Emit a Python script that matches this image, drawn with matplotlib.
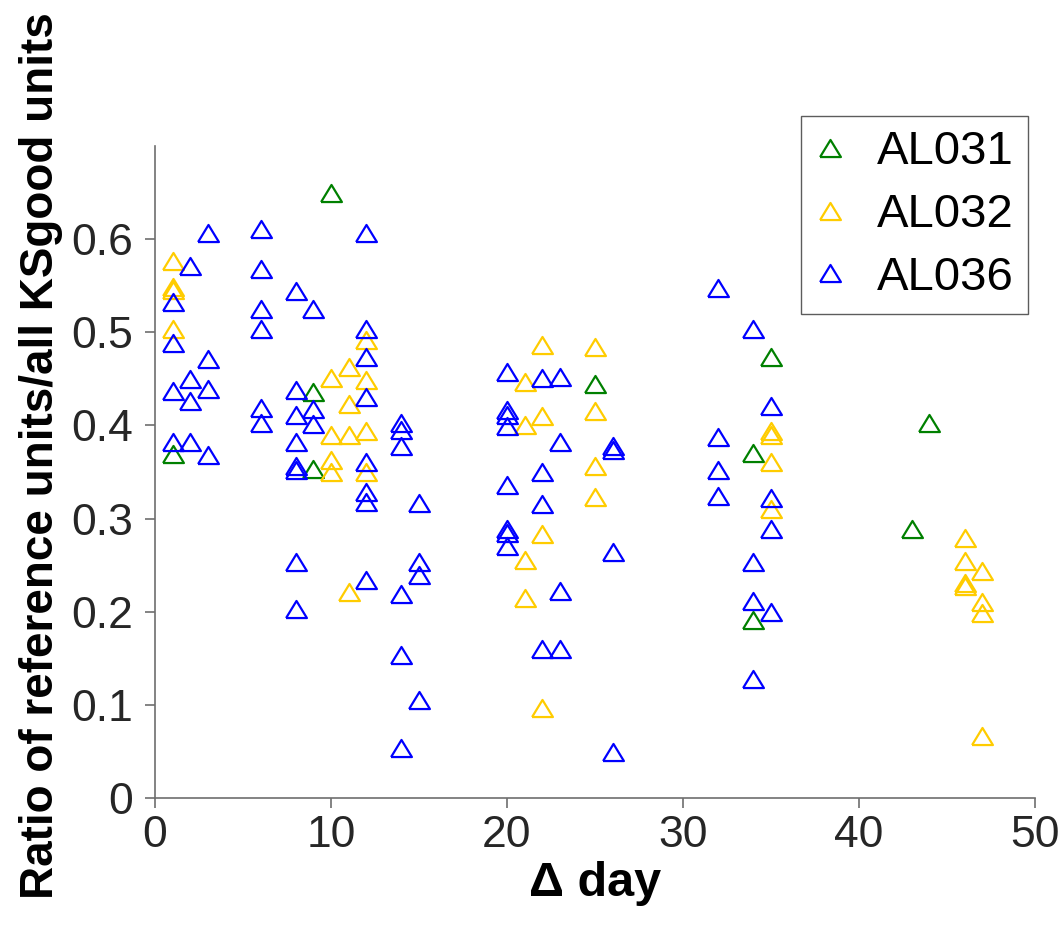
import matplotlib
matplotlib.use("Agg")
import matplotlib.pyplot as plt

# Ratio of reference units to all KSgood units, by days between sessions
al031_day = [1, 9, 9, 10, 25, 34, 34, 35, 43, 44]
al031_ratio = [0.369, 0.436, 0.353, 0.650, 0.444, 0.370, 0.191, 0.473, 0.289, 0.403]

al032_day = [1, 1, 1, 1,
             10, 10, 10, 10,
             11, 11, 11, 11,
             12, 12, 12, 12,
             21, 21, 21, 21,
             22, 22, 22, 22,
             25, 25, 25, 25,
             35, 35, 35, 35,
             46, 46, 46, 46,
             47, 47, 47, 47]
al032_ratio = [0.576, 0.549, 0.545, 0.503,
               0.451, 0.390, 0.363, 0.350,
               0.463, 0.423, 0.390, 0.221,
               0.492, 0.449, 0.394, 0.350,
               0.447, 0.400, 0.256, 0.215,
               0.486, 0.410, 0.283, 0.097,
               0.484, 0.416, 0.356, 0.323,
               0.394, 0.390, 0.361, 0.310,
               0.279, 0.254, 0.231, 0.228,
               0.244, 0.210, 0.199, 0.067]

al036_day = [1, 1, 1, 1,
             2, 2, 2, 2,
             3, 3, 3, 3,
             6, 6, 6, 6, 6, 6,
             8, 8, 8, 8, 8, 8, 8, 8,
             9, 9, 9,
             12, 12, 12, 12, 12, 12, 12, 12,
             14, 14, 14, 14, 14, 14,
             15, 15, 15, 15,
             20, 20, 20, 20, 20, 20, 20, 20,
             22, 22, 22, 22,
             23, 23, 23, 23,
             26, 26, 26, 26,
             32, 32, 32, 32,
             34, 34, 34, 34,
             35, 35, 35, 35]
al036_ratio = [0.532, 0.489, 0.437, 0.382,
               0.571, 0.450, 0.426, 0.382,
               0.607, 0.471, 0.439, 0.368,
               0.611, 0.568, 0.525, 0.503, 0.419, 0.403,
               0.544, 0.438, 0.411, 0.382, 0.356, 0.352, 0.253, 0.203,
               0.525, 0.418, 0.402,
               0.607, 0.503, 0.473, 0.431, 0.361, 0.328, 0.318, 0.234,
               0.403, 0.395, 0.378, 0.219, 0.153, 0.054,
               0.317, 0.253, 0.239, 0.105,
               0.457, 0.417, 0.411, 0.399, 0.336, 0.289, 0.285, 0.271,
               0.451, 0.350, 0.316, 0.160,
               0.452, 0.382, 0.222, 0.160,
               0.378, 0.374, 0.264, 0.049,
               0.548, 0.388, 0.352, 0.324,
               0.503, 0.253, 0.212, 0.128,
               0.421, 0.322, 0.289, 0.200]

series = [
    ("AL031", al031_day, al031_ratio, "#008000"),
    ("AL032", al032_day, al032_ratio, "#FFCC00"),
    ("AL036", al036_day, al036_ratio, "#0000FF"),
]

x_ticks = [0, 10, 20, 30, 40, 50]
y_ticks = [0, 0.1, 0.2, 0.3, 0.4, 0.5, 0.6]

plt.rcParams["font.family"] = ["Liberation Sans", "DejaVu Sans"]

# slightly flattened open triangle
tri = [(-1.0, -0.82), (1.0, -0.82), (0.0, 0.82), (-1.0, -0.82)]

fig = plt.figure(figsize=(10.6, 9.4), dpi=100)
ax = fig.add_axes([155 / 1060, 1 - 798 / 940, 880 / 1060, 652 / 940])

for name, d, r, c in series:
    ax.plot(d, r, linestyle="none", marker=tri, markersize=15,
            markerfacecolor="none", markeredgecolor=c, markeredgewidth=1.6,
            label=name)

ax.set_xlim(0, 50)
ax.set_ylim(0, 0.7)
ax.set_xticks(x_ticks)
ax.set_yticks(y_ticks)
ax.set_xticklabels([str(t) for t in x_ticks])
ax.set_yticklabels(["0" if t == 0 else f"{t:.1f}" for t in y_ticks])

for s in ("top", "right"):
    ax.spines[s].set_visible(False)
for s in ("left", "bottom"):
    ax.spines[s].set_color("#6e6e6e")
    ax.spines[s].set_linewidth(1.2)
ax.tick_params(direction="out", length=7, width=1.2, color="#6e6e6e",
               labelsize=32, labelcolor="#262626")
ax.tick_params(axis="y", pad=9)
ax.tick_params(axis="x", pad=5)

ax.set_xlabel("Δ day", fontsize=35, fontweight="bold", labelpad=4)
ax.set_ylabel("Ratio of reference units/all KSgood units", fontsize=33,
              fontweight="bold")
ax.yaxis.set_label_coords(-0.105, 0.5245)

leg = ax.legend(loc="upper right", bbox_to_anchor=(1028 / 1060, 1 - 116 / 940),
                bbox_transform=fig.transFigure, fontsize=34, frameon=True,
                fancybox=False, handlelength=0.6, handletextpad=0.7,
                borderpad=0.3, labelspacing=0.4, borderaxespad=0)
leg.get_frame().set_edgecolor("#333333")
leg.get_frame().set_linewidth(1.0)

fig.savefig("out.png", dpi=100)
